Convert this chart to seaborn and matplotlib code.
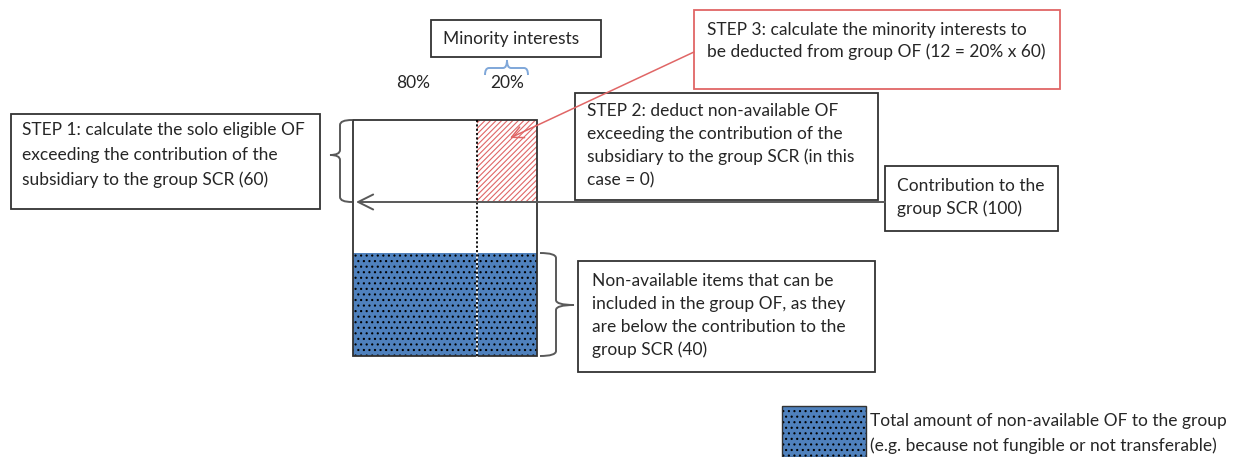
import matplotlib

matplotlib.use('Agg')
import matplotlib.pyplot as plt
import seaborn as sns
from matplotlib.path import Path
from matplotlib.patches import PathPatch, Rectangle

# data
shares = [0.8, 0.2]
share_labels = ['80%', '20%']
contribution = 100
eligible_excess = 60
non_available = 40
minority_share = 20
minority_amount = 12

step1_lines = ['STEP 1: calculate the solo eligible OF',
               'exceeding the contribution of the',
               f'subsidiary to the group SCR ({eligible_excess})']
step2_lines = ['STEP 2: deduct non-available OF',
               'exceeding the contribution of the',
               'subsidiary to the group SCR (in this',
               'case = 0)']
step3_lines = ['STEP 3: calculate the minority interests to',
               f'be deducted from group OF ({minority_amount} = {minority_share}% x {eligible_excess})']
contrib_lines = ['Contribution to the', f'group SCR ({contribution})']
nonavail_lines = ['Non-available items that can be',
                  'included in the group OF, as they',
                  'are below the contribution to the',
                  f'group SCR ({non_available})']
legend_lines = ['Total amount of non-available OF to the group',
                '(e.g. because not fungible or not transferable)']

sns.set_theme(style='white')
plt.rcParams['font.family'] = ['Lato', 'DejaVu Sans']
plt.rcParams['hatch.linewidth'] = 0.8

BLUE = '#4f81bd'
RED = '#e06666'
DARK = '#262626'
GRAY = '#595959'
FS = 12.5

fig = plt.figure(figsize=(12.48, 4.57), dpi=100)
ax = fig.add_axes([0, 0, 1, 1])
ax.set_xlim(0, 1248)
ax.set_ylim(457, 0)
ax.axis('off')

# bar layout (pixels)
bx0, bx1, by0, by1 = 353, 537, 120, 356
split = 477
y_contrib = 202
y_blue = 253
col_x = [bx0, split]
col_w = [split - bx0, bx1 - split]

# non-available base (dotted blue)
ax.bar(col_x, [by1 - y_blue] * 2, width=col_w, bottom=y_blue, align='edge',
       color=BLUE, edgecolor='black', hatch='...', linewidth=0)
# minority part above contribution (red hatch)
ax.bar(col_x[1], y_contrib - by0, width=col_w[1], bottom=by0, align='edge',
       color='white', edgecolor=RED, hatch='//////', linewidth=0)
ax.add_patch(Rectangle((bx0, by0), bx1 - bx0, by1 - by0, fill=False,
                       edgecolor='#333333', lw=1.3))
ax.plot([split, split], [y_blue, by1], color='white', lw=1.3)
ax.plot([split, split], [by0, by1], color='black', ls=(0, (1.2, 1.2)), lw=1.3)


def box(x0, y0, x1, y1, lines, tx, ty, dy=23, ec='#333333'):
    ax.add_patch(Rectangle((x0, y0), x1 - x0, y1 - y0, fill=False,
                           edgecolor=ec, lw=1.3))
    for i, s in enumerate(lines):
        ax.text(tx, ty + i * dy, s, fontsize=FS, color=DARK, va='center', ha='left')


def brace(p_back, p_mid, p_tip, q0, q1, qm, r=5, vertical=True, color=GRAY, lw=1.4):
    pts = [(p_back, q0), (p_mid, q0), (p_mid, q0 + r), (p_mid, qm - r),
           (p_mid, qm), (p_tip, qm), (p_mid, qm), (p_mid, qm + r),
           (p_mid, q1 - r), (p_mid, q1), (p_back, q1)]
    codes = [Path.MOVETO, Path.CURVE3, Path.CURVE3, Path.LINETO,
             Path.CURVE3, Path.CURVE3, Path.CURVE3, Path.CURVE3,
             Path.LINETO, Path.CURVE3, Path.CURVE3]
    if not vertical:
        pts = [(q, p) for p, q in pts]
    ax.add_patch(PathPatch(Path(pts, codes), fill=False, edgecolor=color, lw=lw))


# minority interests header
box(431, 20, 601, 57, ['Minority interests'], 443, 39)
brace(75, 68, 60, 485, 528, 507, r=4, vertical=False, color='#7fa7d9', lw=1.4)
ax.text(413, 83, share_labels[0], fontsize=FS, color=DARK, ha='center', va='center')
ax.text(507, 83, share_labels[1], fontsize=FS, color=DARK, ha='center', va='center')

# step boxes
box(694, 10, 1060, 89, step3_lines, 707, 30, dy=22, ec=RED)
box(575, 93, 878, 200, step2_lines, 587, 111)
box(11, 114, 320, 209, step1_lines, 22, 130, dy=25)
box(885, 166, 1058, 231, contrib_lines, 897, 186)
box(578, 261, 875, 372, nonavail_lines, 592, 281)

# braces
brace(352, 340, 330, by0, y_contrib, 155)
brace(540, 556, 574, y_blue, by1, 305)

# arrows
ax.annotate('', xy=(356, y_contrib), xytext=(885, y_contrib),
            arrowprops=dict(arrowstyle='->,head_length=0.9,head_width=0.45',
                            color=GRAY, lw=1.4, shrinkA=0, shrinkB=0))
ax.annotate('', xy=(510, 138), xytext=(694, 52),
            arrowprops=dict(arrowstyle='->,head_length=0.7,head_width=0.35',
                            color=RED, lw=1.1, shrinkA=0, shrinkB=0))

# legend
ax.bar([782], [51], width=[84], bottom=406, align='edge', color=BLUE,
       edgecolor='black', hatch='...', linewidth=0)
ax.add_patch(Rectangle((782, 406), 84, 51, fill=False, edgecolor='#333333', lw=1))
for i, s in enumerate(legend_lines):
    ax.text(870, 421 + i * 25, s, fontsize=FS, color=DARK, va='center', ha='left')

fig.savefig('out.png', dpi=100)
